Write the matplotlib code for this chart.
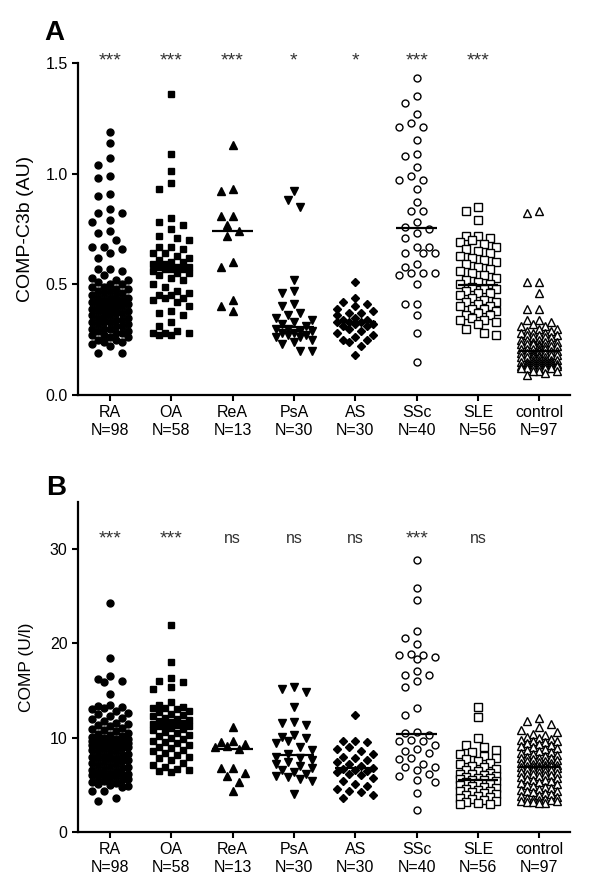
import numpy as np
import matplotlib
matplotlib.use("Agg")
import matplotlib.pyplot as plt

plt.rcParams['font.family'] = ['Liberation Sans', 'DejaVu Sans']

groups = ['RA', 'OA', 'ReA', 'PsA', 'AS', 'SSc', 'SLE', 'control']

# panel A: COMP-C3b (AU)
c3b_ra = [1.19, 1.14, 1.07, 1.04, 0.99, 0.98, 0.91, 0.90, 0.84, 0.82, 0.82, 0.79, 0.78,
          0.74, 0.73, 0.70, 0.67, 0.67, 0.66, 0.64, 0.62, 0.57, 0.57, 0.56,
          0.54, 0.53, 0.52, 0.52, 0.51, 0.50, 0.50, 0.49, 0.49, 0.48, 0.48, 0.47, 0.47,
          0.46, 0.46, 0.45, 0.45, 0.44, 0.44, 0.44, 0.43, 0.43, 0.43, 0.42, 0.42,
          0.42, 0.41, 0.41, 0.41, 0.40, 0.40, 0.40, 0.39, 0.39, 0.39, 0.38, 0.38, 0.38,
          0.37, 0.37, 0.37, 0.36, 0.36, 0.35, 0.35, 0.35, 0.34, 0.34, 0.33, 0.33, 0.33,
          0.32, 0.32, 0.31, 0.31, 0.30, 0.30, 0.30, 0.29, 0.29, 0.28, 0.28, 0.27, 0.27,
          0.26, 0.26, 0.25, 0.25, 0.24, 0.24, 0.23, 0.22, 0.19, 0.19]
c3b_oa = [1.36, 1.09, 1.01, 0.96, 0.93, 0.80, 0.78, 0.77, 0.75, 0.72, 0.71, 0.70, 0.67,
          0.67, 0.66, 0.64, 0.64, 0.63, 0.62, 0.61, 0.60, 0.60, 0.59, 0.59, 0.58, 0.58,
          0.58, 0.57, 0.57,
          0.57, 0.56, 0.55, 0.55, 0.54, 0.53, 0.52, 0.50, 0.49, 0.47, 0.46, 0.45, 0.45,
          0.44, 0.44, 0.43, 0.42, 0.40, 0.38, 0.37, 0.36, 0.33, 0.31, 0.29, 0.28, 0.28,
          0.27, 0.27, 0.28]
c3b_rea = [1.13, 0.93, 0.92, 0.81, 0.81, 0.77, 0.74, 0.72, 0.60, 0.58, 0.43, 0.40, 0.38]
c3b_psa = [0.92, 0.88, 0.85, 0.52, 0.47, 0.46, 0.41, 0.40, 0.37, 0.36, 0.35, 0.34, 0.33,
           0.32, 0.31, 0.30, 0.30, 0.29, 0.29, 0.28, 0.28, 0.27, 0.27, 0.26, 0.26, 0.25,
           0.24, 0.23, 0.20, 0.20]
c3b_as = [0.51, 0.44, 0.42, 0.41, 0.40, 0.39, 0.38, 0.37, 0.37, 0.36, 0.35, 0.34, 0.34,
          0.33, 0.33, 0.33, 0.32, 0.32, 0.31, 0.31, 0.30, 0.29, 0.28, 0.27, 0.26, 0.25,
          0.25, 0.24, 0.22, 0.18]
c3b_ssc = [1.43, 1.35, 1.32, 1.27, 1.23, 1.21, 1.21, 1.15, 1.09, 1.08, 1.03, 0.99, 0.97,
           0.97, 0.93, 0.87, 0.83, 0.83, 0.78, 0.76,
           0.75, 0.73, 0.71, 0.67, 0.67, 0.64, 0.64, 0.64, 0.59, 0.58, 0.55, 0.55, 0.55,
           0.54, 0.50, 0.41, 0.41, 0.36, 0.28, 0.15]
c3b_sle = [0.85, 0.83, 0.79, 0.72, 0.72, 0.71, 0.70, 0.69, 0.68, 0.67, 0.66, 0.65, 0.64,
           0.63, 0.62, 0.61, 0.60, 0.59, 0.58, 0.57, 0.56, 0.55, 0.54, 0.53, 0.52, 0.51,
           0.50, 0.50,
           0.49, 0.48, 0.48, 0.47, 0.46, 0.46, 0.45, 0.44, 0.43, 0.42, 0.42, 0.41, 0.40,
           0.40, 0.39, 0.39, 0.38, 0.37, 0.36, 0.36, 0.35, 0.34, 0.34, 0.33, 0.32, 0.30,
           0.28, 0.27]
c3b_ctrl = [0.83, 0.82, 0.51, 0.51, 0.46, 0.39, 0.39, 0.34, 0.34,
            0.33, 0.32, 0.31, 0.31, 0.30, 0.30, 0.29, 0.29, 0.28, 0.28, 0.28, 0.27, 0.27,
            0.27, 0.26, 0.26, 0.26, 0.25, 0.25, 0.25, 0.24, 0.24, 0.24, 0.24, 0.23, 0.23,
            0.23, 0.23, 0.22, 0.22, 0.22, 0.22, 0.21, 0.21, 0.21, 0.21, 0.21, 0.20, 0.20,
            0.20,
            0.19, 0.19, 0.19, 0.19, 0.18, 0.18, 0.18, 0.18, 0.17, 0.17, 0.17, 0.17, 0.17,
            0.16, 0.16, 0.16, 0.16, 0.16, 0.15, 0.15, 0.15, 0.15, 0.15, 0.15, 0.14, 0.14,
            0.14, 0.14, 0.14, 0.14, 0.13, 0.13, 0.13, 0.13, 0.13, 0.13, 0.13, 0.12, 0.12,
            0.12, 0.12, 0.12, 0.12, 0.11, 0.11, 0.11, 0.10, 0.09]

# panel B: COMP (U/l)
comp_ra = [24.3, 18.5, 16.5, 16.2, 16.0, 15.9, 14.6, 13.5, 13.4, 13.3, 13.2, 13.0, 12.8,
           12.6, 12.5, 12.3, 12.1, 12.0, 11.8, 11.6, 11.5, 11.3, 11.2, 11.0, 10.9, 10.8,
           10.7, 10.5, 10.4, 10.3, 10.2, 10.1, 10.0, 9.9, 9.9, 9.8, 9.7, 9.7, 9.6, 9.5,
           9.5, 9.4, 9.4, 9.3, 9.3, 9.2, 9.2, 9.1, 9.1,
           9.0, 9.0, 8.9, 8.8, 8.7, 8.6, 8.5, 8.4, 8.3, 8.2, 8.1, 8.0, 7.9, 7.8, 7.7, 7.6,
           7.5, 7.4, 7.3, 7.2, 7.1, 7.0, 6.9, 6.8, 6.7, 6.6, 6.5, 6.4, 6.3, 6.2, 6.1, 6.0,
           6.0, 5.9, 5.8, 5.7, 5.6, 5.5, 5.4, 5.3, 5.2, 5.1, 5.0, 4.9, 4.8, 4.4, 4.3, 3.6,
           3.3]
comp_oa = [22.0, 18.0, 16.3, 16.0, 15.9, 15.4, 15.2, 13.8, 13.5, 13.3, 13.2, 13.1, 13.0,
           12.8, 12.7, 12.5, 12.4, 12.3, 12.1, 12.0, 11.9, 11.8, 11.7, 11.6, 11.5, 11.4,
           11.3, 11.2, 11.2,
           11.0, 10.9, 10.8, 10.6, 10.5, 10.3, 10.2, 10.0, 9.9, 9.7, 9.5, 9.4, 9.2, 9.0,
           8.9, 8.7, 8.6, 8.4, 8.2, 8.0, 7.8, 7.6, 7.3, 7.1, 6.9, 6.7, 6.6, 6.5, 6.4]
comp_rea = [11.1, 9.6, 9.5, 9.3, 9.1, 9.0, 8.8, 6.8, 6.8, 6.3, 5.9, 5.3, 4.3]
comp_psa = [15.4, 15.2, 14.9, 13.3, 11.7, 11.6, 11.4, 10.3, 10.1, 10.0, 9.6, 9.4, 9.0,
            8.7, 8.3, 8.0, 7.9, 7.6, 7.4, 7.2, 7.0, 6.8, 6.6, 6.4, 6.1, 5.9, 5.8, 5.6,
            5.4, 4.0]
comp_as = [12.4, 9.6, 9.6, 9.5, 9.0, 8.8, 8.6, 8.3, 8.0, 7.8, 7.6, 7.4, 7.2, 7.0, 6.8,
           6.7, 6.6, 6.5, 6.4, 6.2, 6.0, 5.7, 5.4, 5.1, 4.9, 4.6, 4.4, 4.2, 3.9, 3.6]
comp_ssc = [28.9, 25.9, 24.6, 21.3, 20.6, 19.9, 18.9, 18.8, 18.8, 18.6, 18.4, 17.1, 16.7,
            16.7, 16.0, 15.4, 13.1, 12.4, 10.6, 10.5,
            10.3, 9.8, 9.7, 9.7, 9.2, 8.8, 8.6, 8.4, 7.9, 7.7, 7.2, 6.9, 6.9, 6.6, 6.1,
            5.9, 5.5, 5.3, 4.1, 2.3]
comp_sle = [13.3, 12.2, 10.0, 9.2, 9.0, 8.7, 8.5, 8.3, 8.1, 7.9, 7.7, 7.5, 7.3, 7.2, 7.0,
            6.9, 6.7, 6.6, 6.5, 6.3, 6.2, 6.1, 6.0, 5.9, 5.8, 5.7, 5.7, 5.6,
            5.5, 5.5, 5.4, 5.3, 5.2, 5.1, 5.0, 4.9, 4.8, 4.7, 4.6, 4.5, 4.4, 4.3, 4.2, 4.1,
            4.0, 3.9, 3.8, 3.7, 3.6, 3.5, 3.4, 3.3, 3.2, 3.1, 3.0, 3.0]
comp_ctrl = [12.1, 11.8, 11.5, 11.1, 10.8, 10.6, 10.4, 10.3, 10.1, 10.0, 9.9, 9.8, 9.7,
             9.6, 9.5, 9.4, 9.3, 9.2, 9.1, 9.0, 8.9, 8.8, 8.7, 8.6, 8.5, 8.4, 8.3, 8.2,
             8.1, 8.0, 7.9, 7.8, 7.8, 7.7, 7.6, 7.5, 7.5, 7.4, 7.3, 7.3, 7.2, 7.1, 7.1,
             7.0, 7.0, 7.0, 6.9, 6.9, 6.9,
             6.8, 6.8, 6.7, 6.6, 6.6, 6.5, 6.4, 6.4, 6.3, 6.2, 6.1, 6.0, 6.0, 5.9, 5.8,
             5.7, 5.6, 5.5, 5.5, 5.4, 5.3, 5.2, 5.1, 5.0, 4.9, 4.8, 4.7, 4.6, 4.5, 4.4,
             4.3, 4.2, 4.1, 4.0, 3.9, 3.8, 3.7, 3.6, 3.5, 3.5, 3.4, 3.4, 3.3, 3.3, 3.2,
             3.2, 3.1, 3.1]

sig_a = ['***', '***', '***', '*', '*', '***', '***', '']
sig_b = ['***', '***', 'ns', 'ns', 'ns', '***', 'ns', '']

data_a = [c3b_ra, c3b_oa, c3b_rea, c3b_psa, c3b_as, c3b_ssc, c3b_sle, c3b_ctrl]
data_b = [comp_ra, comp_oa, comp_rea, comp_psa, comp_as, comp_ssc, comp_sle, comp_ctrl]

# marker style per group (filled, then open)
styles = [('o', 'black', 5.0), ('s', 'black', 4.8), ('^', 'black', 5.2), ('v', 'black', 5.2),
          ('D', 'black', 4.0), ('o', 'white', 5.0), ('s', 'white', 5.2), ('^', 'white', 5.4)]


def swarm(ax, xc, vals, h=6.0, d_min=10.0, nmax=3):
    # column-scatter layout in pixel space: each point goes to the first
    # free slot 0, -h, +h, -2h, ... ; if none is free, the least crowded one
    vals = np.asarray(vals, dtype=float)
    xy = ax.transData.transform(np.column_stack([np.full(len(vals), xc), vals]))
    ypx = xy[:, 1]
    ppu = ax.transData.transform((1, 0))[0] - ax.transData.transform((0, 0))[0]
    cands = [0.0]
    for k in range(1, nmax + 1):
        cands += [-k * h, k * h]
    px, py = [], []
    offs = np.zeros(len(vals))
    for i in np.argsort(-vals, kind='stable'):
        best, bestd = 0.0, -1.0
        for c in cands:
            if px:
                d = np.min(np.hypot(np.array(px) - c, np.array(py) - ypx[i]))
            else:
                d = np.inf
            if d >= d_min:
                best = c
                break
            if d > bestd:
                best, bestd = c, d
        offs[i] = best
        px.append(best)
        py.append(ypx[i])
    return xc + offs / ppu


def panel(ax, data, sig, sig_y, ylim):
    ax.set_xlim(0.48, 8.5)
    ax.set_ylim(*ylim)
    for i, vals in enumerate(data):
        x = swarm(ax, i + 1, vals)
        m, fc, ms = styles[i]
        ax.plot(x, vals, ls='none', marker=m, ms=ms, mfc=fc, mec='black',
                mew=1.0, clip_on=False, zorder=2)
        med = np.median(vals)
        ax.hlines(med, i + 1 - 0.33, i + 1 + 0.33, color='black', lw=1.6, zorder=3)
        if sig[i]:
            fs = 14 if '*' in sig[i] else 11.5
            ax.text(i + 1, sig_y, sig[i], ha='center', va='baseline', fontsize=fs,
                    color='#333333', clip_on=False)
    ax.set_xticks(range(1, 9))
    ax.set_xticklabels([f'{g}\nN={len(v)}' for g, v in zip(groups, data)],
                       linespacing=1.25)
    for s in ['top', 'right']:
        ax.spines[s].set_visible(False)
    for s in ['left', 'bottom']:
        ax.spines[s].set_linewidth(1.6)
    ax.tick_params(direction='out', length=4.5, width=1.5, labelsize=11.5, pad=3)


fig = plt.figure(figsize=(6, 8.91), dpi=100)
ax1 = fig.add_axes([0.13, 0.5567, 0.82, 0.3726])
ax2 = fig.add_axes([0.13, 0.0662, 0.82, 0.3704])

panel(ax1, data_a, sig_a, 1.487, (0, 1.5))
ax1.set_yticks([0, 0.5, 1.0, 1.5])
ax1.set_yticklabels(['0.0', '0.5', '1.0', '1.5'])
ax1.set_ylabel('COMP-C3b (AU)', fontsize=14)
ax1.yaxis.set_label_coords(-0.09, 0.5)

panel(ax2, data_b, sig_b, 30.6, (0, 35))
ax2.set_yticks([0, 10, 20, 30])
ax2.set_ylabel('COMP (U/l)', fontsize=12.5)
ax2.yaxis.set_label_coords(-0.09, 0.5)

fig.text(44 / 600, 1 - 40 / 891, 'A', fontsize=20, fontweight='bold', va='baseline')
fig.text(46 / 600, 1 - 495 / 891, 'B', fontsize=20, fontweight='bold', va='baseline')

fig.savefig('out.png', dpi=100, facecolor='white')
